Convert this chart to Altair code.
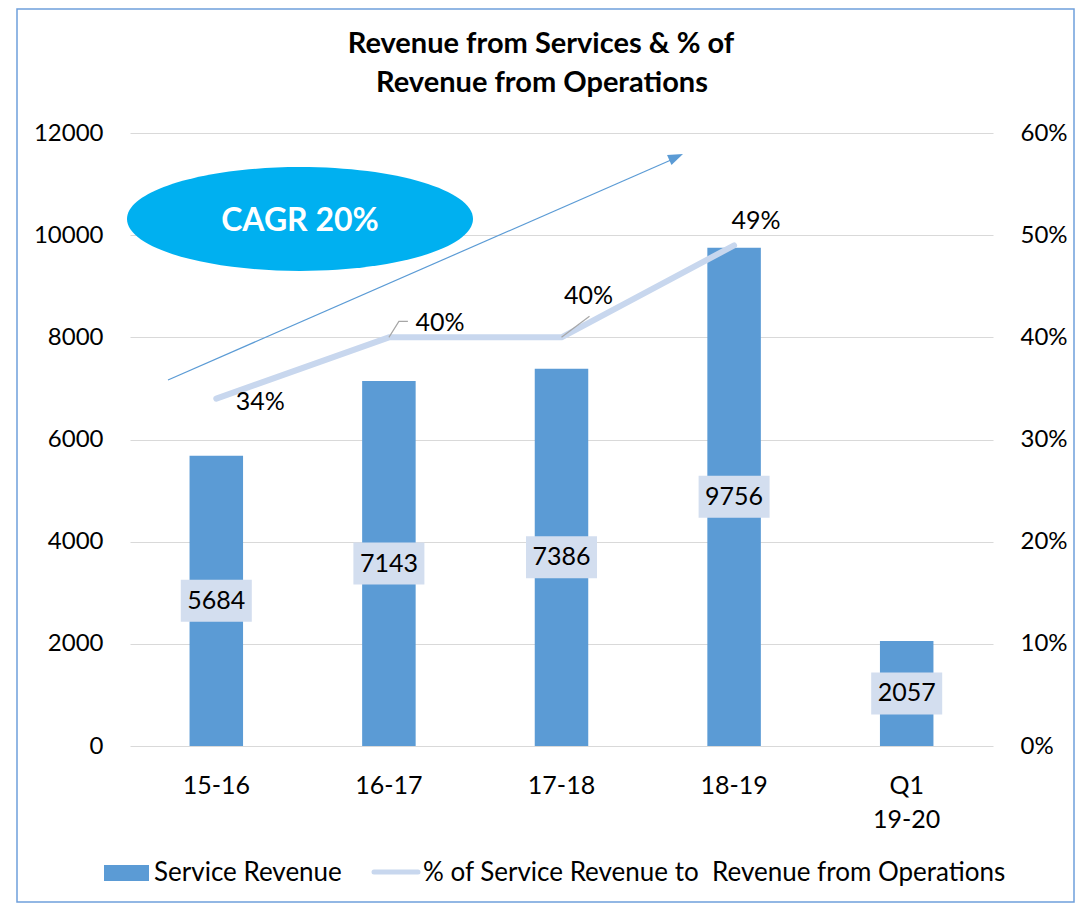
import altair as alt
import pandas as pd

# ---------------- data ----------------
categories = ["15-16", "16-17", "17-18", "18-19", "Q1 19-20"]
service_revenue = [5684, 7143, 7386, 9756, 2057]
pct_categories = ["15-16", "16-17", "17-18", "18-19"]
pct_of_operations = [0.34, 0.40, 0.40, 0.49]
left_ticks = [0, 2000, 4000, 6000, 8000, 10000, 12000]
right_ticks = [0, 0.1, 0.2, 0.3, 0.4, 0.5, 0.6]
title_lines = ["Revenue from Services & % of", "Revenue from Operations"]
cagr_text = "CAGR 20%"
legend_bar = "Service Revenue"
legend_line = "% of Service Revenue to\u00a0 Revenue from Operations"

FONT = "Lato"
BAR_COLOR = "#5B9BD5"
LINE_COLOR = "#C8D7EE"
BOX_COLOR = "#D3DEEF"
GRID = "#D9D9D9"

bar_df = pd.DataFrame({"period": categories, "revenue": service_revenue})
pct_df = pd.DataFrame({"period": pct_categories, "pct": pct_of_operations})
one = pd.DataFrame({"k": [0]})

x_enc = alt.X(
    "period:N",
    sort=categories,
    scale=alt.Scale(domain=categories, paddingInner=0.69, paddingOuter=0.345),
    axis=alt.Axis(
        title=None, labelAngle=0, labelFont=FONT, labelFontSize=25,
        labelColor="black", labelPadding=27, domain=False, ticks=False,
        labelExpr="datum.label == 'Q1 19-20' ? ['Q1', '19-20'] : datum.label",
        labelLineHeight=34,
    ),
)

left_scale = alt.Scale(domain=[0, 12000])
right_scale = alt.Scale(domain=[0, 0.6])
left_axis = alt.Axis(title=None, values=left_ticks, format="d", grid=True, gridColor=GRID,
                     gridWidth=1.2, domain=False, ticks=False, labelFont=FONT,
                     labelFontSize=24, labelColor="black", labelPadding=27)
right_axis = alt.Axis(title=None, orient="right", format=".0%", values=right_ticks,
                      grid=False, domain=False, ticks=False, labelFont=FONT,
                      labelFontSize=24, labelColor="black", labelPadding=27)

# ---------------- left group ----------------
bars = alt.Chart(bar_df).mark_bar(color=BAR_COLOR).encode(
    x=x_enc,
    y=alt.Y("revenue:Q", scale=left_scale, axis=left_axis),
)

BOX = "M-1,-0.5915L1,-0.5915L1,0.5915L-1,0.5915Z"
boxes = alt.Chart(bar_df).transform_calculate(mid="datum.revenue / 2").mark_point(
    shape=BOX, size=5041, filled=True, fill=BOX_COLOR, opacity=1, strokeWidth=0
).encode(x=x_enc, y=alt.Y("mid:Q", scale=left_scale, axis=left_axis))

box_text = alt.Chart(bar_df).transform_calculate(mid="datum.revenue / 2").mark_text(
    font=FONT, fontSize=25, color="black"
).encode(x=x_enc, y=alt.Y("mid:Q", scale=left_scale, axis=left_axis), text="revenue:Q")

left_group = alt.layer(bars, boxes, box_text)

# ---------------- right group ----------------
y_right = alt.Y("pct:Q", scale=right_scale, axis=right_axis)

line = alt.Chart(pct_df).mark_line(color=LINE_COLOR, strokeWidth=6, strokeCap="round",
                                   strokeJoin="round").encode(x=x_enc, y=y_right)


def pct_label(cat, dx, dy):
    return alt.Chart(pct_df).transform_filter(alt.datum.period == cat).mark_text(
        font=FONT, fontSize=25, color="black", dx=dx, dy=dy
    ).encode(x=x_enc, y=y_right, text=alt.Text("pct:Q", format=".0%"))


def leader(cat, path, size):
    return alt.Chart(pct_df).transform_filter(alt.datum.period == cat).mark_point(
        shape=path, size=size, filled=False, stroke="#A6A6A6", strokeWidth=1.2, opacity=1
    ).encode(x=x_enc, y=y_right)


right_group = alt.layer(
    line,
    pct_label("15-16", 44, 3),
    pct_label("16-17", 51, -14),
    pct_label("17-18", 27, -41),
    pct_label("18-19", 22, -24),
    leader("16-17", "M0,0L0.526,-0.842L1,-0.842", 1444),
    leader("17-18", "M0,0L1,-0.75", 3136),
)

# ---------------- annotations ----------------
frame = alt.Chart(one).mark_rect(fill=None, stroke="#6FA0DC", strokeWidth=1.5).encode(
    x=alt.value(-113), x2=alt.value(944), y=alt.value(-124), y2=alt.value(769)
)

ELLIPSE = "M-1,0A1,0.3 0 1,0 1,0A1,0.3 0 1,0 -1,0Z"
ellipse = alt.Chart(one).mark_point(
    shape=ELLIPSE, size=346 * 346, filled=True, fill="#00B0F0", opacity=1, strokeWidth=0
).encode(x=alt.value(170), y=alt.value(86))

cagr = alt.Chart(one).mark_text(
    text=cagr_text, font=FONT, fontSize=32, fontWeight="bold", color="white"
).encode(x=alt.value(170), y=alt.value(88))

arrow_line = alt.Chart(one).mark_rule(color=BAR_COLOR, strokeWidth=1.2).encode(
    x=alt.value(38), y=alt.value(247), x2=alt.value(541), y2=alt.value(27)
)
arrow_head = alt.Chart(one).mark_point(
    shape="M0,0L-1,-0.37L-1,0.37Z", size=900, filled=True, fill=BAR_COLOR,
    opacity=1, strokeWidth=0, angle=336.3
).encode(x=alt.value(553), y=alt.value(21))

title1 = alt.Chart(one).mark_text(
    text=title_lines[0], font=FONT, fontSize=29, fontWeight="bold", color="black",
    baseline="alphabetic", align="center"
).encode(x=alt.value(411), y=alt.value(-80))
title2 = alt.Chart(one).mark_text(
    text=title_lines[1], font=FONT, fontSize=29, fontWeight="bold", color="black",
    baseline="alphabetic", align="center"
).encode(x=alt.value(412), y=alt.value(-41))

leg_rect = alt.Chart(one).mark_rect(color=BAR_COLOR).encode(
    x=alt.value(-26), x2=alt.value(19), y=alt.value(732), y2=alt.value(748)
)
leg_text1 = alt.Chart(one).mark_text(
    text=legend_bar, font=FONT, fontSize=26, color="black", align="left", baseline="alphabetic"
).encode(x=alt.value(24), y=alt.value(748))
leg_line = alt.Chart(one).mark_rule(color=LINE_COLOR, strokeWidth=5, strokeCap="round").encode(
    x=alt.value(244), x2=alt.value(288), y=alt.value(739), y2=alt.value(739)
)
leg_text2 = alt.Chart(one).mark_text(
    text=legend_line, font=FONT, fontSize=26, color="black", align="left", baseline="alphabetic"
).encode(x=alt.value(293), y=alt.value(748))

chart = alt.layer(
    frame, left_group, right_group, ellipse, cagr, arrow_line, arrow_head,
    title1, title2, leg_rect, leg_text1, leg_line, leg_text2,
).resolve_scale(y="independent").properties(
    width=863, height=613,
    autosize=alt.AutoSizeParams(type="none"),
    padding={"left": 122, "top": 125, "right": 82, "bottom": 157},
).configure(background="white", view=alt.ViewConfig(stroke=None))

chart.save("out.html", embed_options={"renderer": "svg", "actions": False})
